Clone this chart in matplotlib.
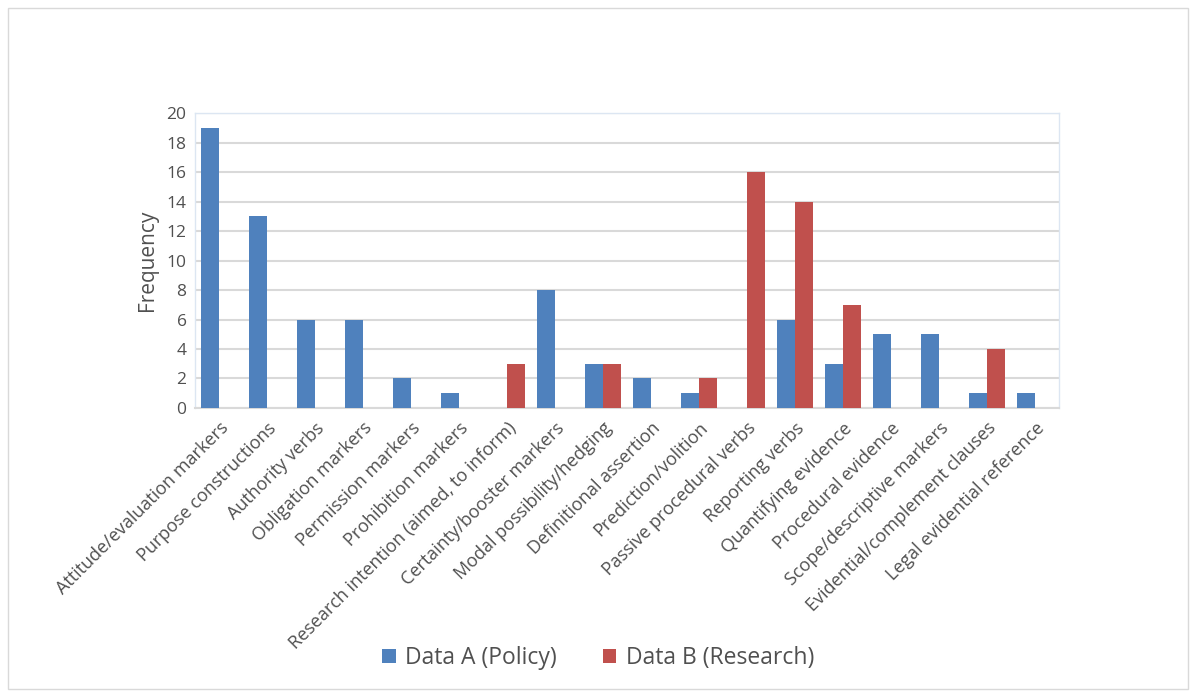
import numpy as np
import matplotlib.pyplot as plt
from matplotlib.patches import Rectangle

categories = [
    "Attitude/evaluation markers",
    "Purpose constructions",
    "Authority verbs",
    "Obligation markers",
    "Permission markers",
    "Prohibition markers",
    "Research intention (aimed, to inform)",
    "Certainty/booster markers",
    "Modal possibility/hedging",
    "Definitional assertion",
    "Prediction/volition",
    "Passive procedural verbs",
    "Reporting verbs",
    "Quantifying evidence",
    "Procedural evidence",
    "Scope/descriptive markers",
    "Evidential/complement clauses",
    "Legal evidential reference",
]
data_a = [19, 13, 6, 6, 2, 1, 0, 8, 3, 2, 1, 0, 6, 3, 5, 5, 1, 1]
data_b = [0, 0, 0, 0, 0, 0, 3, 0, 3, 0, 2, 16, 14, 7, 0, 0, 4, 0]
yticks = [0, 2, 4, 6, 8, 10, 12, 14, 16, 18, 20]

plt.rcParams['font.family'] = ['Open Sans', 'DejaVu Sans']

blue = "#4F81BD"
red = "#C0504D"
grey = "#505050"

fig = plt.figure(figsize=(11.96, 6.95), dpi=100)
ax = fig.add_axes([0.163, 0.413, 0.7225, 0.424])

x = np.arange(len(categories))
w = 0.375
ax.bar(x - w / 2, data_a, width=w, color=blue, label="Data A (Policy)", zorder=3)
ax.bar(x + w / 2, data_b, width=w, color=red, label="Data B (Research)", zorder=3)

ax.set_xlim(-0.5, len(categories) - 0.5)
ax.set_ylim(0, 20)
ax.set_yticks(yticks)
ax.set_yticklabels([str(t) for t in yticks], fontsize=12.5, color=grey)
ax.set_xticks(x)
ax.set_xticklabels(categories, rotation=45, ha="right", rotation_mode="anchor",
                   fontsize=13, color=grey)
ax.tick_params(axis="both", length=0, pad=6)
ax.tick_params(axis="x", pad=8)
ax.set_ylabel("Frequency", fontsize=15, color=grey, labelpad=6)

ax.grid(axis="y", color="#D9D9D9", linewidth=1.5, zorder=0)
for side in ["top", "left", "right"]:
    ax.spines[side].set_color("#DCE6F2")
    ax.spines[side].set_linewidth(1.0)
ax.spines["bottom"].set_color("#D9D9D9")
ax.spines["bottom"].set_linewidth(1.5)

fig.legend(loc="center", bbox_to_anchor=(0.5, 0.053), ncol=2, frameon=False,
           fontsize=16.5, handlelength=0.6, handleheight=0.6, columnspacing=2.0,
           handletextpad=0.4, labelcolor=grey)

# chart frame
fig.patches.append(Rectangle((0.007, 0.008), 0.986, 0.98, transform=fig.transFigure,
                             fill=False, edgecolor="#D9D9D9", linewidth=1.0))

fig.savefig("out.png", dpi=100)
